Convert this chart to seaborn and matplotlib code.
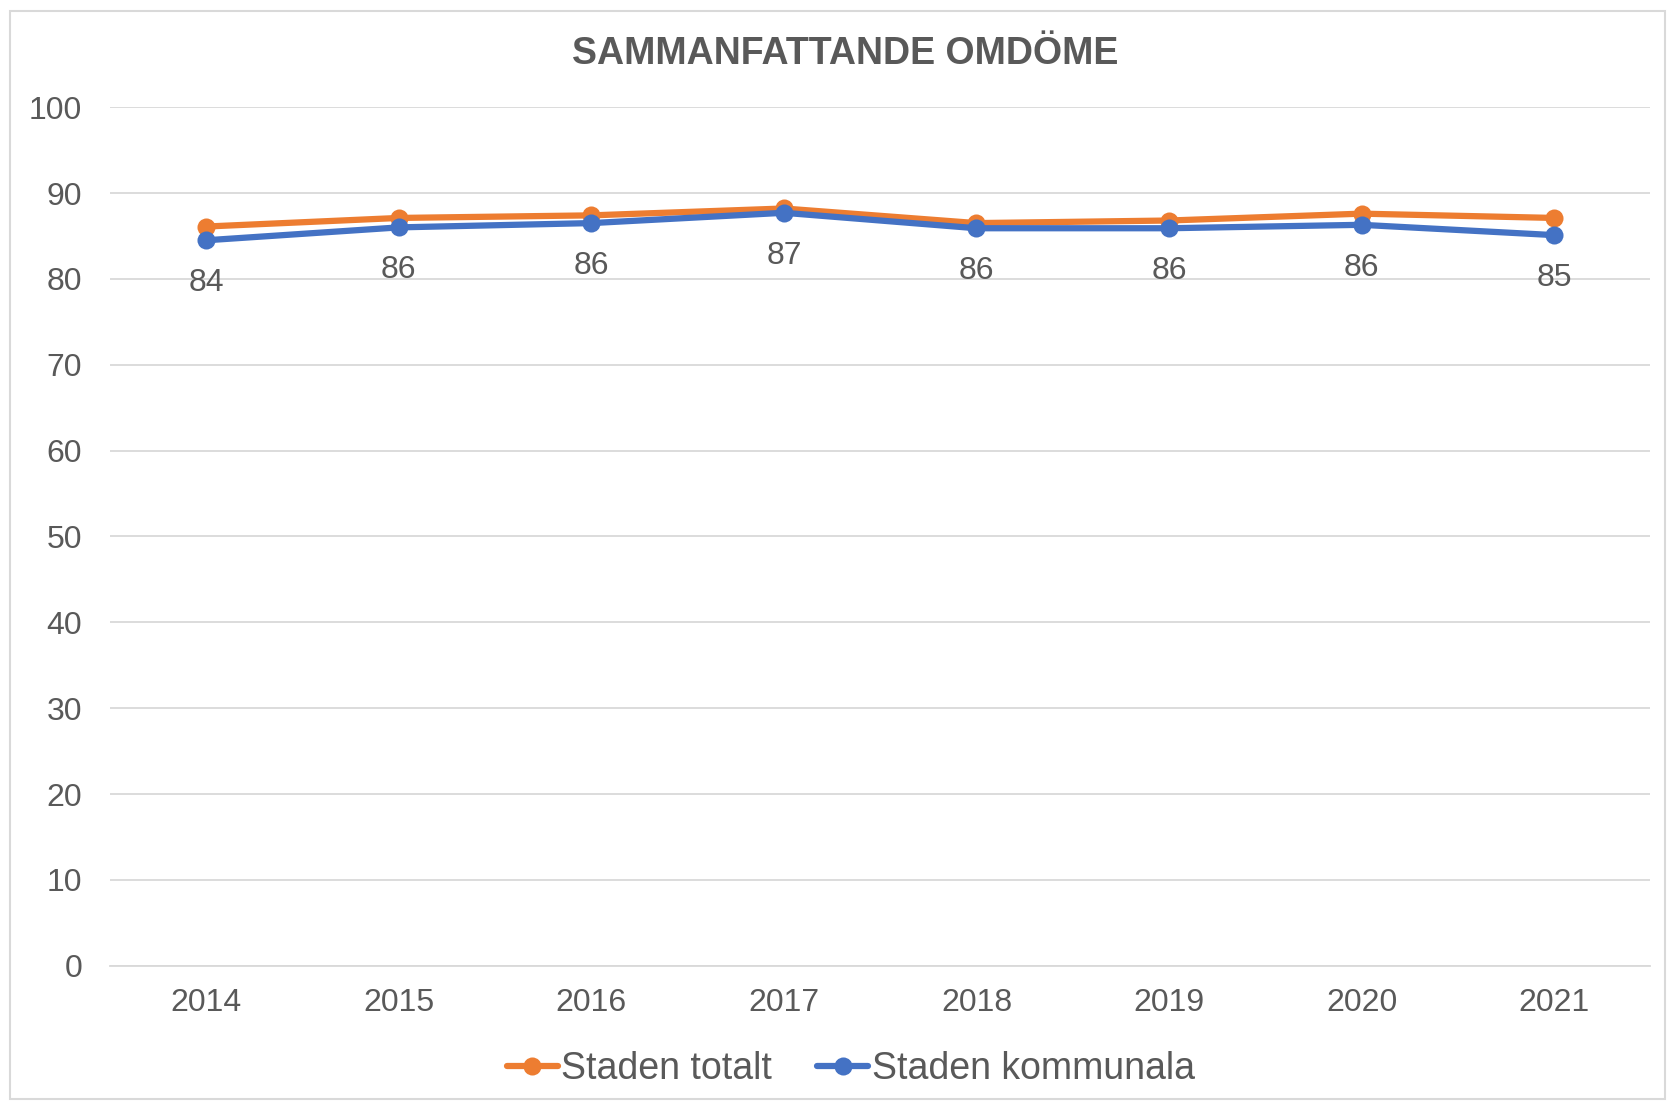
import matplotlib
matplotlib.use("Agg")
import matplotlib.pyplot as plt
import seaborn as sns
import pandas as pd
from matplotlib.patches import Rectangle

years = ["2014", "2015", "2016", "2017", "2018", "2019", "2020", "2021"]
staden_totalt = [86.1, 87.1, 87.4, 88.2, 86.5, 86.8, 87.6, 87.1]
staden_kommunala = [84.5, 86.0, 86.5, 87.7, 85.9, 85.9, 86.3, 85.1]
kommunala_labels = ["84", "86", "86", "87", "86", "86", "86", "85"]
series_names = ["Staden totalt", "Staden kommunala"]
title = "SAMMANFATTANDE OMDÖME"

df = pd.DataFrame({
    "year": years * 2,
    "value": staden_totalt + staden_kommunala,
    "series": [series_names[0]] * len(years) + [series_names[1]] * len(years),
})

sns.set_theme(style="white")
plt.rcParams["font.family"] = ["Liberation Sans", "DejaVu Sans"]

fig = plt.figure(figsize=(16.67, 11.05), dpi=100)
ax = fig.add_axes([0.066, 0.126, 0.924, 0.777])

palette = {series_names[0]: "#ED7D31", series_names[1]: "#4472C4"}
sns.lineplot(data=df, x="year", y="value", hue="series", palette=palette,
             marker="o", markersize=13, linewidth=4.5, markeredgewidth=0,
             sort=False, ax=ax, legend=True)

ax.set_ylim(0, 100)
ax.set_xlim(-0.5, len(years) - 0.5)
ax.set_yticks(range(0, 101, 10))
ax.yaxis.grid(True, color="#d9d9d9", linewidth=1.3)
ax.xaxis.grid(False)
for s in ["left", "right", "top"]:
    ax.spines[s].set_visible(False)
ax.spines["bottom"].set_color("#d9d9d9")
ax.spines["bottom"].set_linewidth(1.3)
ax.tick_params(axis="both", length=0, labelsize=23, labelcolor="#595959")
ax.tick_params(axis="x", pad=16)
ax.tick_params(axis="y", pad=20)
ax.set_xlabel("")
ax.set_ylabel("")

for i, (v, lab) in enumerate(zip(staden_kommunala, kommunala_labels)):
    ax.annotate(lab, (i, v), xytext=(0, -31), textcoords="offset points",
                ha="center", va="center", fontsize=23, color="#595959")

fig.text(0.507, 0.951, title, fontsize=27, fontweight="bold", color="#595959",
         ha="center", va="center")

leg = ax.legend(loc="center", bbox_to_anchor=(0.481, -0.12), ncol=2,
                frameon=False, fontsize=27, handlelength=1.36, handletextpad=0.1,
                columnspacing=1.2, labelcolor="#595959")
for h in leg.legend_handles:
    h.set_linewidth(4.5)
    h.set_markersize(13)

fig.patches.append(Rectangle((0.006, 0.005), 0.993, 0.985, transform=fig.transFigure,
                             fill=False, edgecolor="#d9d9d9", linewidth=1.5))

fig.savefig("out.png", dpi=100)
